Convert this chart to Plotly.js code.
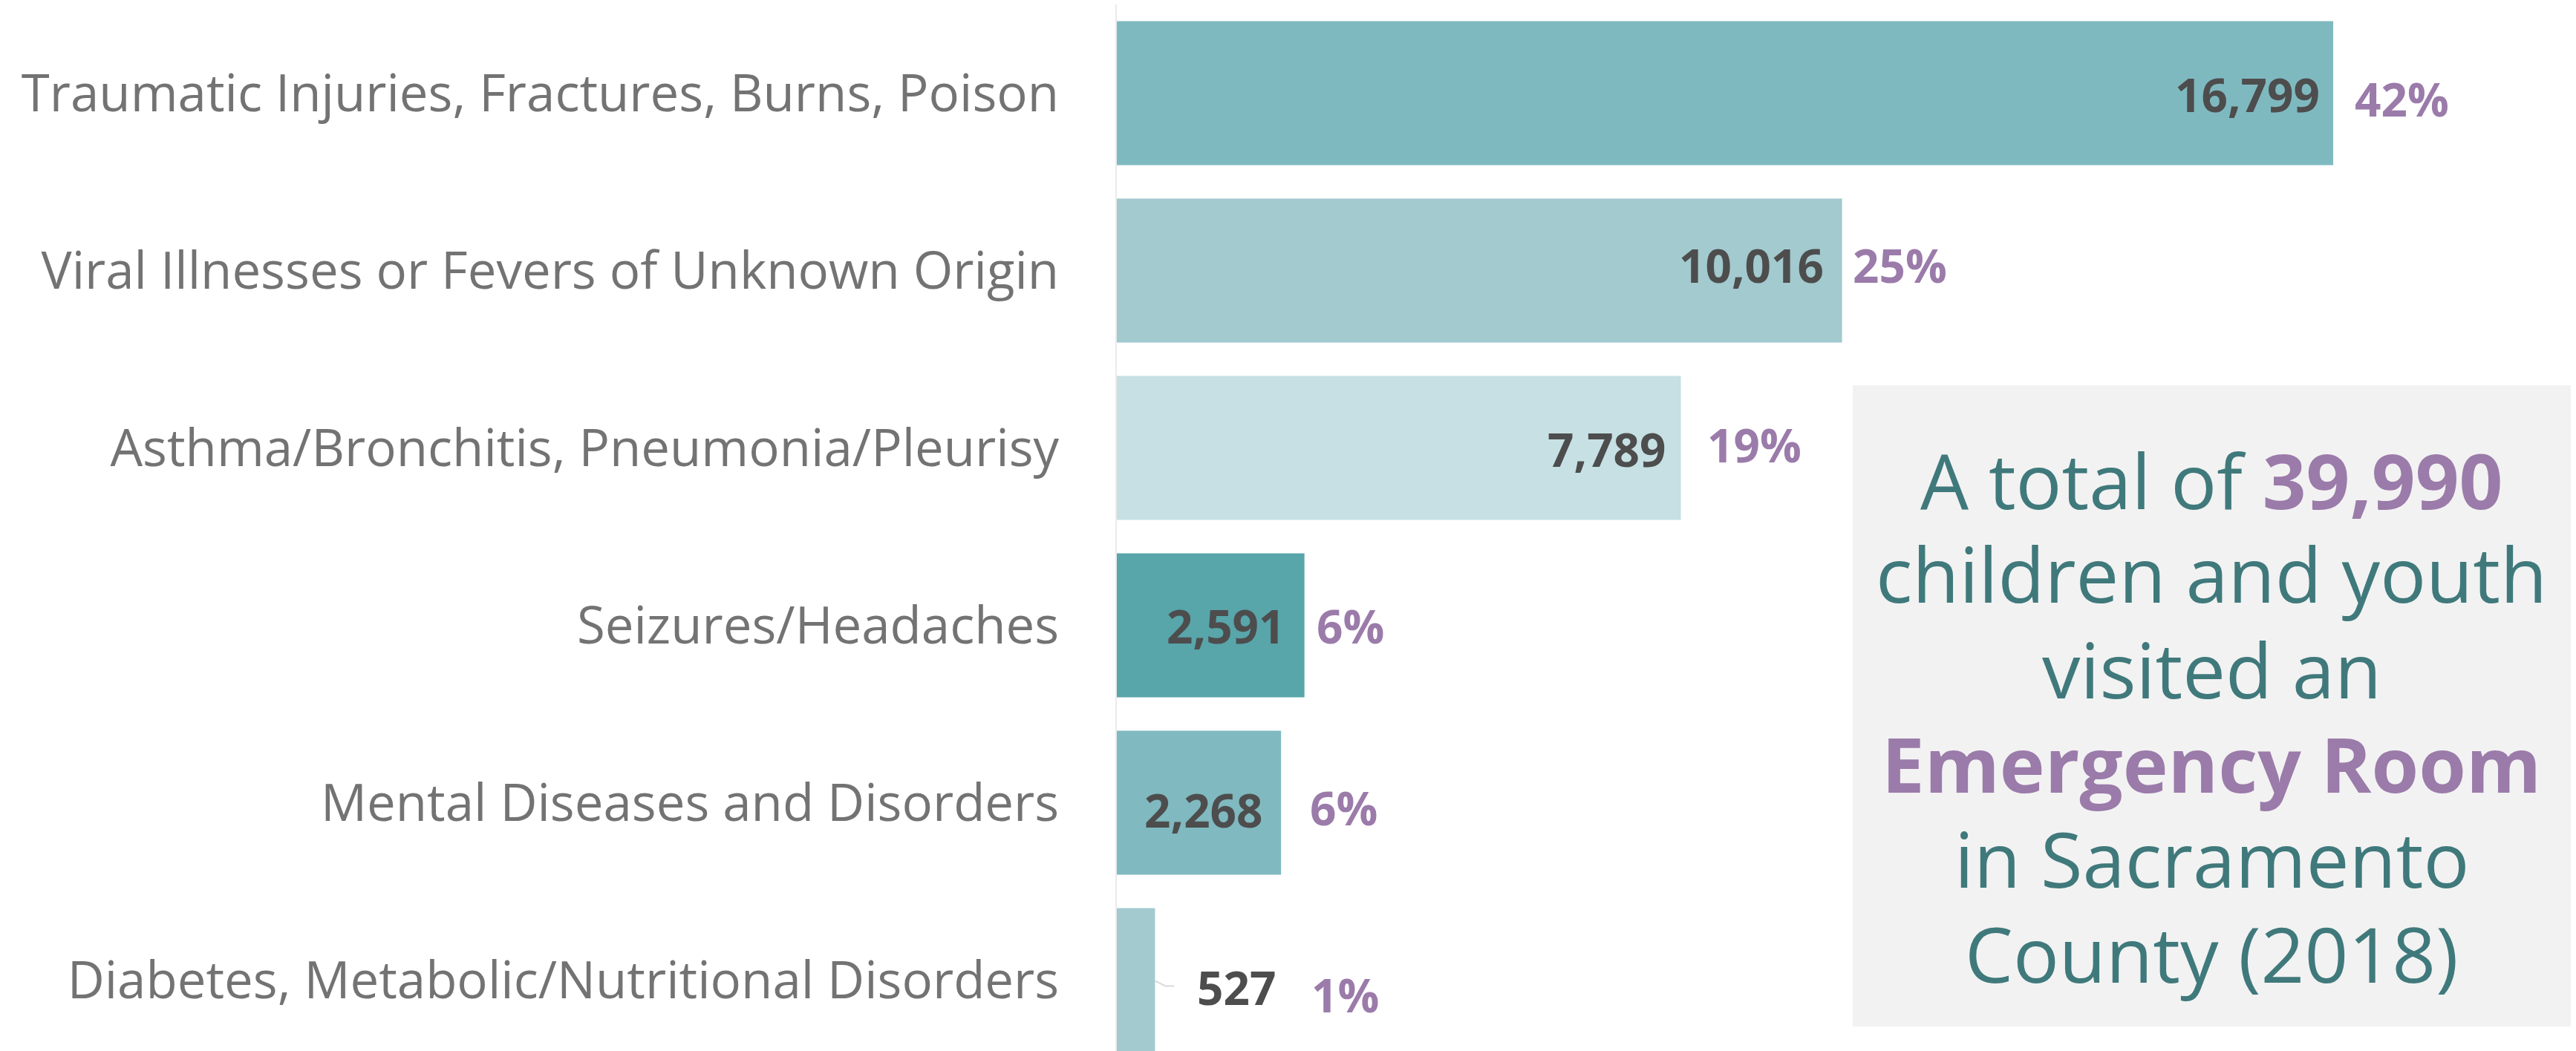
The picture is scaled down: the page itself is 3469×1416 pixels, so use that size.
<!DOCTYPE html>
<html>
<head>
<meta charset="utf-8">
<script src="https://cdn.plot.ly/plotly-3.0.1.min.js"></script>
<style>html,body{margin:0;padding:0;background:#fff;}#chart{width:3469px;height:1416px;}</style>
</head>
<body>
<div id="chart"></div>
<script>
// ---- data ----
const categories = [
  "Traumatic Injuries, Fractures, Burns, Poison",
  "Viral Illnesses or Fevers of Unknown Origin",
  "Asthma/Bronchitis, Pneumonia/Pleurisy",
  "Seizures/Headaches",
  "Mental Diseases and Disorders",
  "Diabetes, Metabolic/Nutritional Disorders"
];
const visits = [16799, 10016, 7789, 2591, 2268, 527];
const percents = [42, 25, 19, 6, 6, 1];
const totalVisits = "39,990";

// ---- styles ----
const barColors = ["#7FB9C0", "#A2CACF", "#C6E0E3", "#58A5AA", "#80B9C0", "#A2CACF"];
const valueInside = [true, true, true, true, true, false];
const valueGap = [16, 23, 19, 25, 23, 55];
const valueDy = [-2, 7, -2, -1, -10, -10];
const pctGap = [27, 12, 33, 14, 37, 209];
const pctDy = [-8, 7, 4, -1, -7, -20];

const FONT = "'Open Sans', 'Noto Sans', sans-serif";
const TEAL = "#40797B";
const PURPLE = "#9B7BAA";

const fmt = v => v.toLocaleString("en-US");

const trace = {
  type: "bar",
  orientation: "h",
  y: categories,
  x: visits,
  marker: { color: barColors, line: { width: 0 } },
  hoverinfo: "none",
  textposition: "none"
};

const annotations = [];
categories.forEach((c, i) => {
  annotations.push({
    x: visits[i], y: c, xref: "x", yref: "y",
    text: "<b>" + fmt(visits[i]) + "</b>",
    showarrow: false,
    xanchor: valueInside[i] ? "right" : "left",
    yanchor: "middle",
    xshift: valueInside[i] ? -valueGap[i] : valueGap[i],
    yshift: valueDy[i],
    font: { family: FONT, size: 62, color: "#4D4D4D" }
  });
  annotations.push({
    x: visits[i], y: c, xref: "x", yref: "y",
    text: "<b>" + percents[i] + "%</b>",
    showarrow: false,
    xanchor: "left", yanchor: "middle",
    xshift: pctGap[i], yshift: pctDy[i],
    font: { family: FONT, size: 62, color: PURPLE }
  });
});

// text box lines
const boxLines = [
  "A total of <b><span style='color:" + PURPLE + "'>" + totalVisits + "</span></b>",
  "children and youth",
  "visited an",
  "<b><span style='color:" + PURPLE + "'>Emergency Room</span></b>",
  "in Sacramento",
  "County (2018)"
];
const plotLeft = 1504, plotTop = 6, plotW = 3469 - 1504, plotH = 1416 - 6;
const px2x = p => (p - plotLeft) / plotW;
const px2y = p => (1416 - p) / plotH;
const boxCenters = [646, 772, 901, 1028, 1156, 1284];
boxLines.forEach((t, i) => {
  annotations.push({
    xref: "paper", yref: "paper",
    x: px2x(2978), y: px2y(boxCenters[i]),
    xanchor: "center", yanchor: "middle",
    text: t, showarrow: false,
    font: { family: FONT, size: 103, color: TEAL }
  });
});

const layout = {
  width: 3469, height: 1416,
  margin: { l: 1504, r: 0, t: 6, b: 0, pad: 0 },
  paper_bgcolor: "#ffffff", plot_bgcolor: "#ffffff",
  showlegend: false,
  bargap: 0.188,
  font: { family: FONT },
  xaxis: { visible: false, range: [0, 20152], fixedrange: true },
  yaxis: {
    type: "category",
    categoryorder: "array", categoryarray: categories,
    range: [5.4, -0.5],
    showline: true, linecolor: "#EBEBEB", linewidth: 2,
    showgrid: false, zeroline: false, ticks: "",
    ticklabelstandoff: 62,
    tickfont: { family: FONT, size: 69, color: "#737373" },
    fixedrange: true
  },
  shapes: [
    {
      type: "rect", xref: "paper", yref: "paper", layer: "below",
      x0: px2x(2495), x1: px2x(3462), y0: px2y(1383), y1: px2y(519),
      fillcolor: "#F2F2F2", line: { width: 0 }
    },
    {
      type: "path", xref: "x", yref: "y",
      xsizemode: "pixel", ysizemode: "pixel",
      xanchor: visits[5], yanchor: categories[5],
      path: "M0,-1L14,-8L26,-8",
      line: { color: "#D9D9D9", width: 2 }
    }
  ],
  annotations: annotations
};

Plotly.newPlot("chart", [trace], layout, { staticPlot: true, displayModeBar: false });
</script>
</body>
</html>
